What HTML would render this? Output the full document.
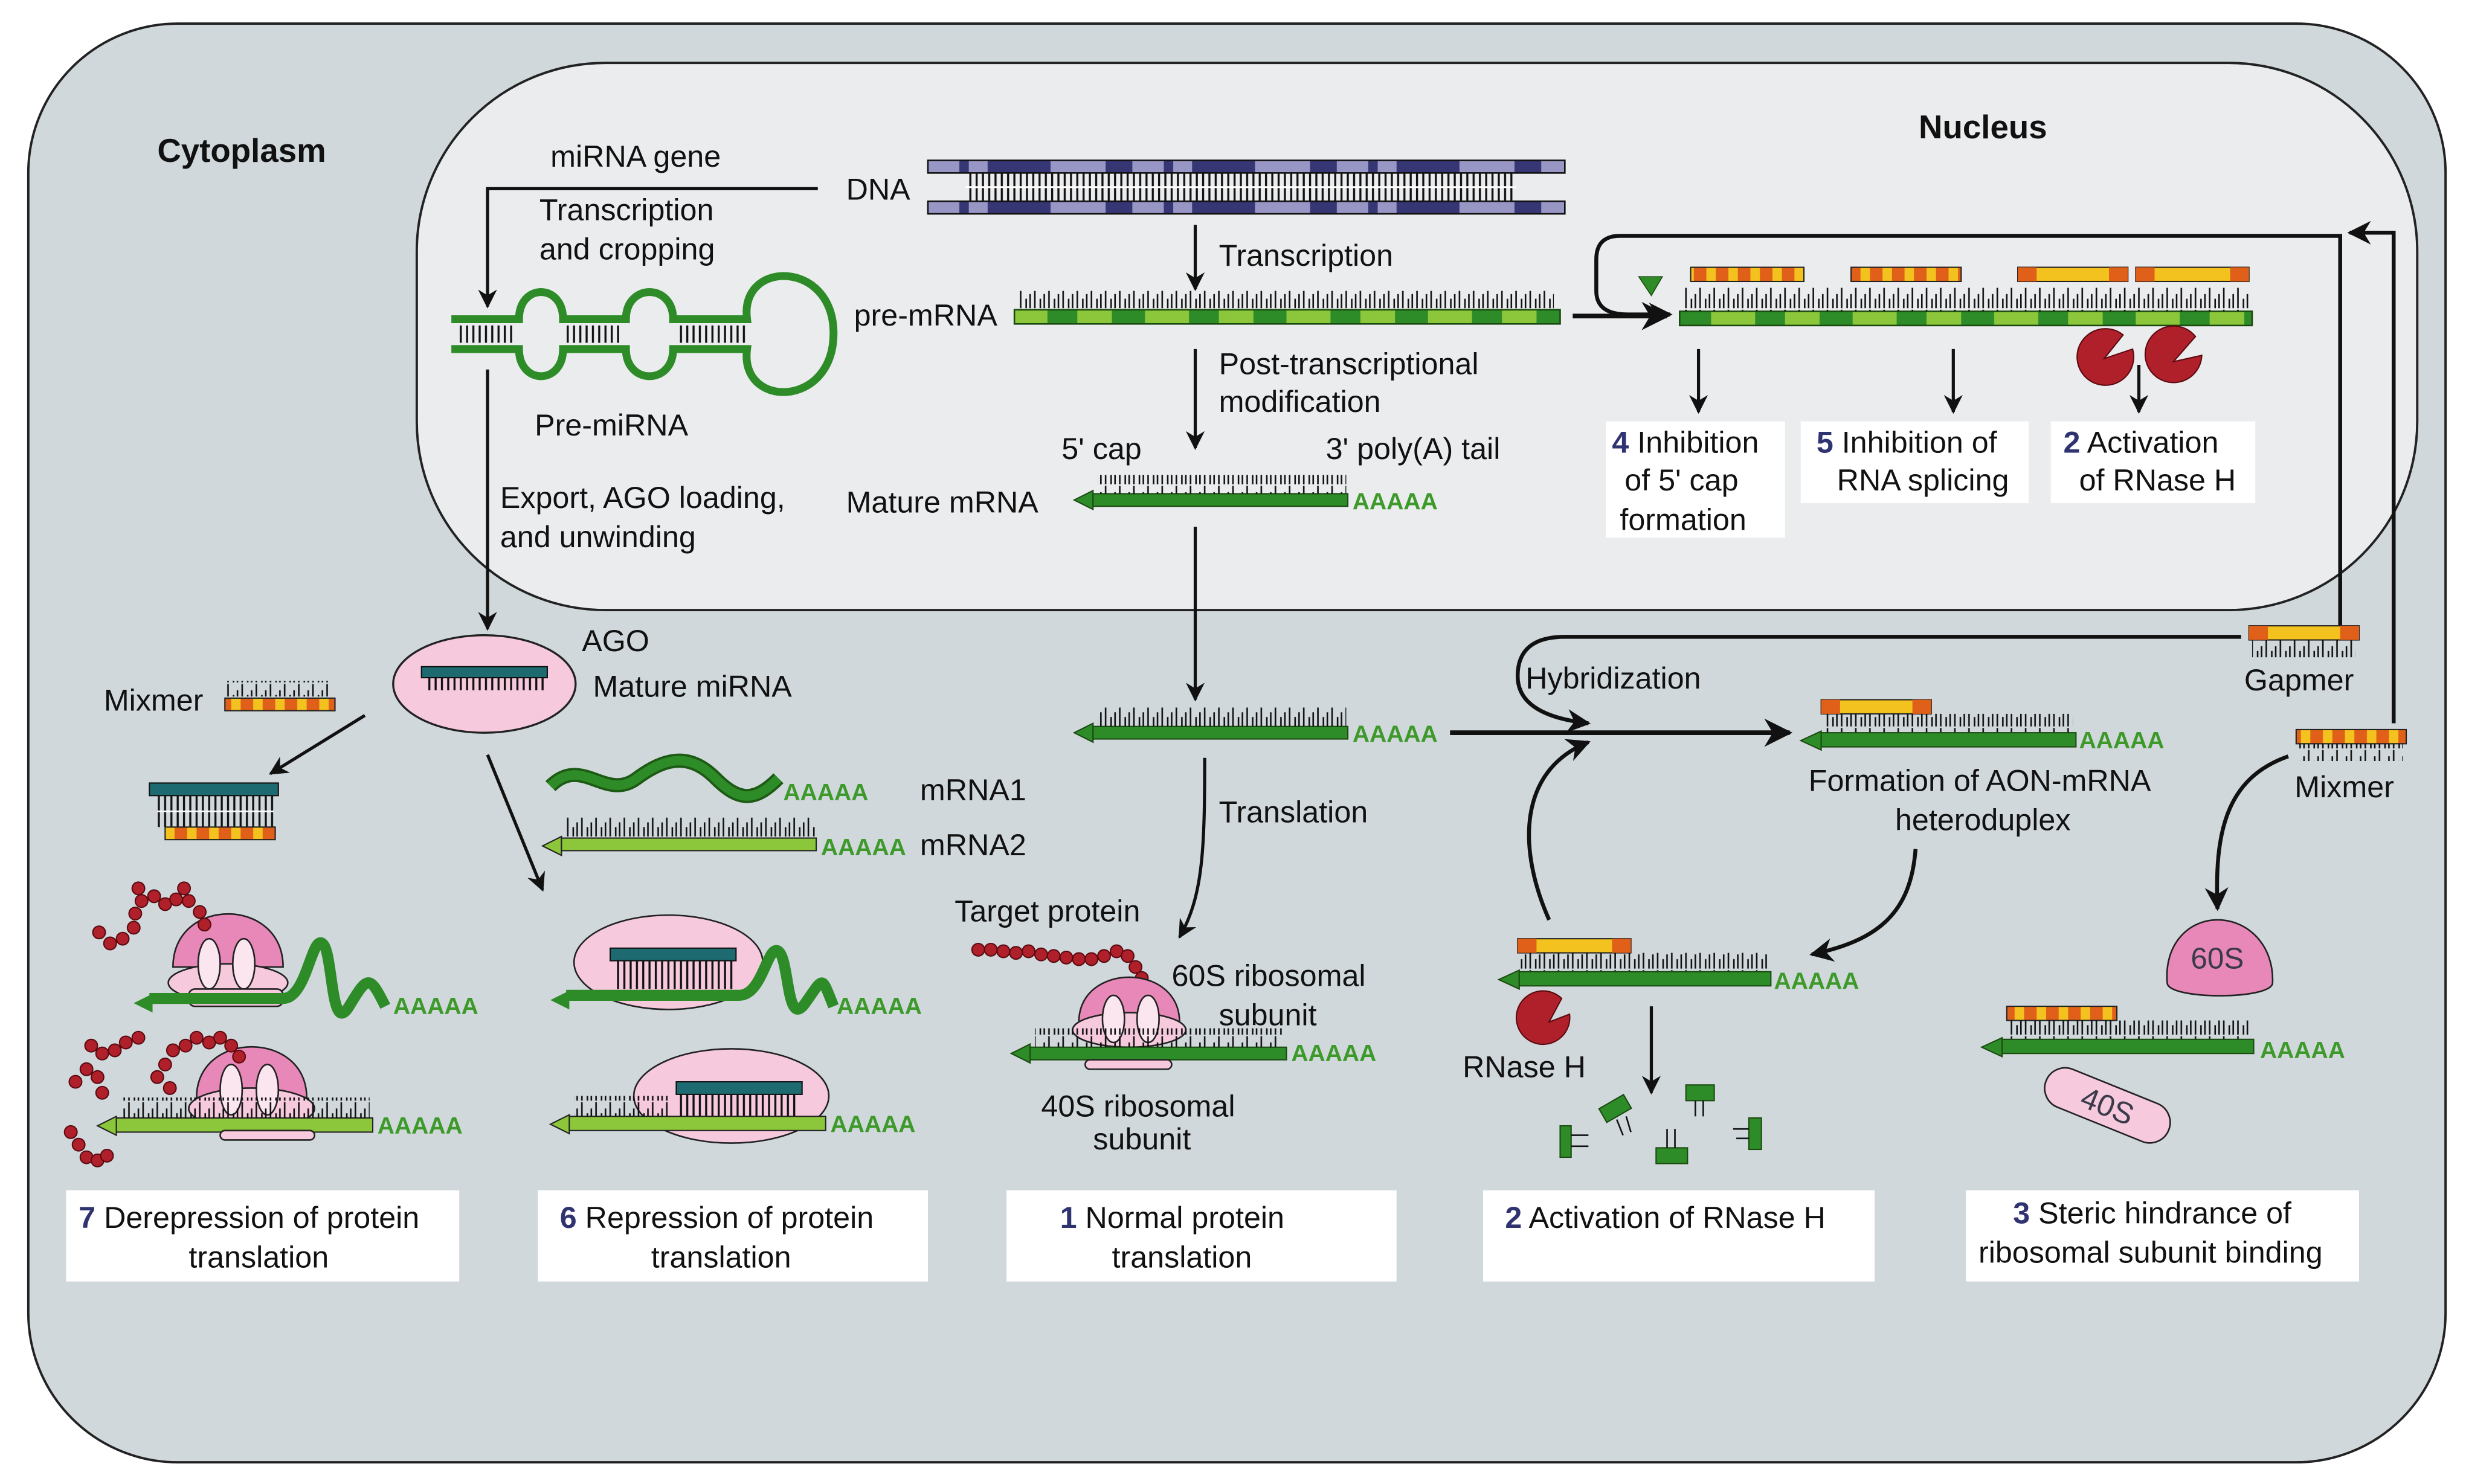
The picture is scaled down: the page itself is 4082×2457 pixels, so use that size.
<!DOCTYPE html>
<html><head><meta charset="utf-8"><style>
html,body{margin:0;padding:0;background:#fff;}
svg{display:block;}
text{font-family:"Liberation Sans",Arial,sans-serif;font-size:19.3px;fill:#111;}
.b{font-weight:bold;}
.num{font-weight:bold;fill:#2f3470;}
.aa{fill:#3d9a2a;font-weight:bold;font-size:15px;}
.lab{fill:#3a3a4a;}
</style></head><body>
<svg width="4082" height="2457" viewBox="0 0 1568 943.8" preserveAspectRatio="none" xmlns="http://www.w3.org/2000/svg">
<defs>
<pattern id="tk" width="9" height="14" patternUnits="userSpaceOnUse">
<line x1="1" y1="1" x2="1" y2="14" stroke="#111" stroke-width="1"/>
<line x1="4.5" y1="8" x2="4.5" y2="14" stroke="#111" stroke-width="1"/>
<line x1="7" y1="5" x2="7" y2="14" stroke="#111" stroke-width="1"/>
</pattern>
<pattern id="tkd" width="4" height="20" patternUnits="userSpaceOnUse">
<line x1="1" y1="0" x2="1" y2="20" stroke="#111" stroke-width="1.3"/>
</pattern>
<pattern id="mix" width="14" height="10" patternUnits="userSpaceOnUse">
<rect width="14" height="10" fill="#e0601a"/><rect x="7" width="6" height="10" fill="#f4c21e"/>
</pattern>
<pattern id="dnap" width="130" height="10" patternUnits="userSpaceOnUse">
<rect width="130" height="10" fill="#363674"/><rect x="18" width="35" height="10" fill="#9896c4"/><rect x="70" width="20" height="10" fill="#9896c4"/><rect x="96" width="12" height="10" fill="#9896c4"/>
</pattern>
<pattern id="grp" width="90" height="10" patternUnits="userSpaceOnUse">
<rect width="90" height="10" fill="#2e8c28"/><rect x="8" width="28" height="10" fill="#8cc63a"/><rect x="55" width="22" height="10" fill="#8cc63a"/>
</pattern>
<marker id="ar" viewBox="0 0 10 10" refX="9" refY="5" markerWidth="6" markerHeight="6" orient="auto"><path d="M0,0 L10,5 L0,10 L3,5Z" fill="#111"/></marker>
</defs>

<rect width="1568" height="944" fill="#fff"/>
<rect x="18" y="15" width="1537" height="915" rx="95" fill="#d0d8dc" stroke="#222" stroke-width="1.5"/>
<rect x="265" y="40" width="1272" height="348" rx="120" fill="#ebecee" stroke="#222" stroke-width="1.5"/>

<text x="100" y="103" class="b" style="font-size:21px">Cytoplasm</text>
<text x="1220" y="88" class="b" style="font-size:21px">Nucleus</text>

<rect x="590" y="102" width="405" height="8" fill="url(#dnap)" stroke="#111" stroke-width="1"/>
<rect x="590" y="128" width="405" height="8" fill="url(#dnap)" stroke="#111" stroke-width="1"/>
<rect x="614" y="110" width="350" height="18" fill="url(#tkd)"/>
<line x1="614" y1="119" x2="964" y2="119" stroke="#fff" stroke-width="1.2"/>
<text x="538" y="127">DNA</text>
<text x="350" y="106">miRNA gene</text>
<text x="343" y="140">Transcription</text>
<text x="343" y="165">and cropping</text>
<path d="M520,120 H310 V195" fill="none" stroke="#111" stroke-width="2" marker-end="url(#ar)"/>

<g fill="none" stroke="#2e8c28" stroke-width="5">
<path d="M287,203 H330 C330,180 358,180 358,203 H398 C398,180 428,180 428,203 H475 C470,165 530,165 530,212 C530,260 470,260 475,222 H428 C428,245 398,245 398,222 H358 C358,245 330,245 330,222 H287"/>
</g>
<rect x="290" y="207" width="38" height="11" fill="url(#tkd)"/><rect x="360" y="207" width="36" height="11" fill="url(#tkd)"/><rect x="430" y="207" width="44" height="11" fill="url(#tkd)"/>
<text x="340" y="277">Pre-miRNA</text>
<line x1="310" y1="235" x2="310" y2="400" stroke="#111" stroke-width="2" marker-end="url(#ar)"/>
<text x="318" y="323">Export, AGO loading,</text>
<text x="318" y="348">and unwinding</text>

<ellipse cx="308" cy="435" rx="58" ry="31" fill="#f6c9dd" stroke="#222" stroke-width="1.3"/>
<rect x="268" y="424" width="80" height="7" fill="#1d6a70" stroke="#111" stroke-width=".8"/>
<rect x="270" y="431" width="76" height="8" fill="url(#tkd)"/>
<text x="370" y="414">AGO</text>
<text x="377" y="443">Mature miRNA</text>
<text x="66" y="452">Mixmer</text>
<rect x="143" y="433" width="68" height="10" fill="url(#tk)"/>
<rect x="143" y="444" width="70" height="8" fill="url(#mix)" stroke="#222" stroke-width=".8"/>
<path d="M232,455 L172,492" stroke="#111" stroke-width="2" marker-end="url(#ar)"/>
<path d="M310,480 L345,566" stroke="#111" stroke-width="2" marker-end="url(#ar)"/>
<rect x="95" y="498" width="82" height="8" fill="#1d6a70" stroke="#111" stroke-width=".8"/>
<rect x="100" y="506" width="74" height="20" fill="url(#tkd)"/>
<line x1="100" y1="516" x2="174" y2="516" stroke="#fff"/>
<rect x="105" y="526" width="70" height="8" fill="url(#mix)" stroke="#222" stroke-width=".8"/>

<path d="M350,500 C370,480 385,510 405,495 S440,480 455,495 S480,510 495,495" fill="none" stroke="#1d5a14" stroke-width="9"/>
<path d="M350,500 C370,480 385,510 405,495 S440,480 455,495 S480,510 495,495" fill="none" stroke="#2e8c28" stroke-width="6"/>
<text x="498" y="509" class="aa">AAAAA</text><text x="585" y="509">mRNA1</text>
<path d="M345,538 L357,532 V544 Z" fill="#8cc63a" stroke="#222" stroke-width=".8"/>
<rect x="357" y="533" width="162" height="8" fill="#8cc63a" stroke="#222" stroke-width=".8"/>
<rect x="360" y="520" width="158" height="13" fill="url(#tk)"/>
<text x="522" y="544" class="aa">AAAAA</text><text x="585" y="544">mRNA2</text>

<g>
<path d="M110,615 C110,570 180,570 180,615 Z" fill="#e888b8" stroke="#222" stroke-width="1"/>
<ellipse cx="145" cy="625" rx="38" ry="12" fill="#f6c9dd" stroke="#222" stroke-width="1"/>
<ellipse cx="133" cy="613" rx="7" ry="16" fill="#fbe6f0" stroke="#222"/><ellipse cx="155" cy="613" rx="7" ry="16" fill="#fbe6f0" stroke="#222"/>
<rect x="120" y="629" width="60" height="11" rx="4" fill="#f6c9dd" stroke="#222"/>
<path d="M95,635 H180 C195,635 198,595 205,600 S210,660 222,640 S235,620 245,640" fill="none" stroke="#2e8c28" stroke-width="7"/>
<path d="M85,638 L97,632 V644Z" fill="#2e8c28"/>
<text x="250" y="645" class="aa">AAAAA</text>
<path d="M125,698 C125,655 195,655 195,698 Z" fill="#e888b8" stroke="#222"/>
<ellipse cx="160" cy="705" rx="40" ry="13" fill="#f6c9dd" stroke="#222"/>
<ellipse cx="147" cy="693" rx="7" ry="16" fill="#fbe6f0" stroke="#222"/><ellipse cx="170" cy="693" rx="7" ry="16" fill="#fbe6f0" stroke="#222"/>
<path d="M62,716 L74,710 V722Z" fill="#8cc63a" stroke="#222" stroke-width=".8"/>
<rect x="74" y="711" width="163" height="9" fill="#8cc63a" stroke="#222" stroke-width=".8"/>
<rect x="140" y="719" width="60" height="6" rx="3" fill="#f6c9dd" stroke="#222"/>
<rect x="77" y="698" width="158" height="13" fill="url(#tk)"/>
<text x="240" y="721" class="aa">AAAAA</text>
</g>
<g fill="#b0202a" stroke="#5a0a10" stroke-width=".8">
<circle cx="88" cy="565" r="4"/><circle cx="90" cy="573" r="4"/><circle cx="86" cy="581" r="4"/><circle cx="85" cy="590" r="4"/><circle cx="78" cy="597" r="4"/><circle cx="70" cy="600" r="4"/><circle cx="63" cy="593" r="4"/><circle cx="98" cy="570" r="4"/><circle cx="105" cy="575" r="4"/><circle cx="112" cy="572" r="4"/><circle cx="117" cy="565" r="4"/><circle cx="120" cy="573" r="4"/><circle cx="127" cy="580" r="4"/><circle cx="130" cy="588" r="4"/>
<circle cx="58" cy="665" r="4"/><circle cx="65" cy="670" r="4"/><circle cx="73" cy="668" r="4"/><circle cx="80" cy="663" r="4"/><circle cx="88" cy="660" r="4"/><circle cx="55" cy="680" r="4"/><circle cx="48" cy="688" r="4"/><circle cx="62" cy="685" r="4"/><circle cx="65" cy="695" r="4"/><circle cx="110" cy="668" r="4"/><circle cx="105" cy="677" r="4"/><circle cx="100" cy="685" r="4"/><circle cx="108" cy="692" r="4"/><circle cx="118" cy="665" r="4"/><circle cx="125" cy="660" r="4"/><circle cx="133" cy="663" r="4"/><circle cx="140" cy="660" r="4"/><circle cx="147" cy="665" r="4"/><circle cx="152" cy="672" r="4"/><circle cx="45" cy="720" r="4"/><circle cx="50" cy="728" r="4"/><circle cx="55" cy="736" r="4"/><circle cx="62" cy="738" r="4"/><circle cx="68" cy="735" r="4"/>
</g>

<ellipse cx="425" cy="612" rx="60" ry="30" fill="#f6c9dd" stroke="#222"/>
<rect x="388" y="603" width="80" height="8" fill="#1d6a70" stroke="#111" stroke-width=".8"/>
<rect x="390" y="611" width="76" height="18" fill="url(#tkd)"/>
<path d="M360,633 H470 C485,633 488,600 495,605 S500,655 512,638 S522,620 530,640" fill="none" stroke="#2e8c28" stroke-width="7"/>
<path d="M350,636 L362,630 V642Z" fill="#2e8c28"/>
<text x="532" y="645" class="aa">AAAAA</text>
<ellipse cx="465" cy="697" rx="62" ry="30" fill="#f6c9dd" stroke="#222"/>
<rect x="430" y="688" width="80" height="8" fill="#1d6a70" stroke="#111" stroke-width=".8"/>
<rect x="432" y="696" width="76" height="14" fill="url(#tkd)"/>
<path d="M350,715 L362,709 V721Z" fill="#8cc63a" stroke="#222" stroke-width=".8"/>
<rect x="362" y="710" width="163" height="9" fill="#8cc63a" stroke="#222" stroke-width=".8"/>
<rect x="365" y="697" width="60" height="13" fill="url(#tk)"/>
<text x="528" y="720" class="aa">AAAAA</text>

<line x1="760" y1="143" x2="760" y2="184" stroke="#111" stroke-width="2" marker-end="url(#ar)"/>
<text x="775" y="169">Transcription</text>
<text x="543" y="207">pre-mRNA</text>
<rect x="648" y="185" width="340" height="12" fill="url(#tk)"/>
<rect x="645" y="197" width="347" height="9" fill="url(#grp)" stroke="#1a4a10" stroke-width="1"/>
<line x1="760" y1="222" x2="760" y2="285" stroke="#111" stroke-width="2" marker-end="url(#ar)"/>
<text x="775" y="238">Post-transcriptional</text>
<text x="775" y="262">modification</text>
<text x="675" y="292">5' cap</text>
<text x="843" y="292">3' poly(A) tail</text>
<text x="538" y="326">Mature mRNA</text>
<path d="M683,318 L695,312 V324Z" fill="#2e8c28" stroke="#1a4a10" stroke-width=".8"/>
<rect x="695" y="314" width="162" height="8" fill="#2e8c28" stroke="#1a4a10" stroke-width=".8"/>
<rect x="698" y="302" width="158" height="12" fill="url(#tk)"/>
<text x="860" y="324" class="aa">AAAAA</text>
<line x1="760" y1="335" x2="760" y2="445" stroke="#111" stroke-width="2" marker-end="url(#ar)"/>
<path d="M683,466 L695,460 V472Z" fill="#2e8c28" stroke="#1a4a10" stroke-width=".8"/>
<rect x="695" y="462" width="162" height="8" fill="#2e8c28" stroke="#1a4a10" stroke-width=".8"/>
<rect x="698" y="450" width="158" height="12" fill="url(#tk)"/>
<text x="860" y="472" class="aa">AAAAA</text>
<line x1="922" y1="466" x2="1138" y2="466" stroke="#111" stroke-width="3" marker-end="url(#ar)"/>
<path d="M766,482 C766,540 765,570 750,596" fill="none" stroke="#111" stroke-width="2" marker-end="url(#ar)"/>
<text x="775" y="523">Translation</text>
<text x="607" y="586">Target protein</text>
<g fill="#b0202a" stroke="#5a0a10" stroke-width=".8">
<circle cx="622" cy="604" r="4"/><circle cx="630" cy="604" r="4"/><circle cx="638" cy="605" r="4"/><circle cx="646" cy="606" r="4"/><circle cx="654" cy="605" r="4"/><circle cx="662" cy="607" r="4"/><circle cx="670" cy="608" r="4"/><circle cx="678" cy="609" r="4"/><circle cx="686" cy="610" r="4"/><circle cx="694" cy="610" r="4"/><circle cx="702" cy="608" r="4"/><circle cx="710" cy="605" r="4"/><circle cx="717" cy="608" r="4"/><circle cx="722" cy="615" r="4"/><circle cx="726" cy="622" r="4"/>
</g>
<path d="M686,650 C686,612 750,612 750,650 Z" fill="#e888b8" stroke="#222"/>
<ellipse cx="718" cy="655" rx="36" ry="11" fill="#f6c9dd" stroke="#222"/>
<ellipse cx="708" cy="648" rx="7" ry="15" fill="#fbe6f0" stroke="#222"/><ellipse cx="730" cy="648" rx="7" ry="15" fill="#fbe6f0" stroke="#222"/>
<path d="M643,670 L655,664 V676Z" fill="#2e8c28" stroke="#1a4a10" stroke-width=".8"/>
<rect x="655" y="666" width="163" height="8" fill="#2e8c28" stroke="#1a4a10" stroke-width=".8"/>
<rect x="690" y="674" width="55" height="6" rx="3" fill="#f6c9dd" stroke="#222"/>
<rect x="658" y="654" width="158" height="12" fill="url(#tk)"/>
<text x="821" y="675" class="aa">AAAAA</text>
<text x="745" y="627">60S ribosomal</text>
<text x="775" y="652">subunit</text>
<text x="662" y="710">40S ribosomal</text>
<text x="695" y="731">subunit</text>

<path d="M1488,398 V150 H1030 Q1015,150 1015,165 V185 Q1015,200 1035,200 H1062" fill="none" stroke="#111" stroke-width="2.5" marker-end="url(#ar)"/>
<path d="M1522,460 V148 H1494" fill="none" stroke="#111" stroke-width="2.5" marker-end="url(#ar)"/>
<line x1="1000" y1="201" x2="1060" y2="201" stroke="#111" stroke-width="3" marker-end="url(#ar)"/>
<path d="M1042,176 L1057,176 L1050,188Z" fill="#2e8c28" stroke="#1a4a10" stroke-width=".6"/>
<rect x="1068" y="198" width="364" height="9" fill="url(#grp)" stroke="#1a4a10" stroke-width="1"/>
<rect x="1070" y="183" width="360" height="15" fill="url(#tk)"/>
<rect x="1075" y="170" width="72" height="9" fill="url(#mix)" stroke="#222" stroke-width=".8"/>
<rect x="1177" y="170" width="70" height="9" fill="url(#mix)" stroke="#222" stroke-width=".8"/>
<rect x="1283" y="170" width="70" height="9" fill="#f4c21e" stroke="#222" stroke-width=".8"/><rect x="1283" y="170" width="12" height="9" fill="#e0601a"/><rect x="1341" y="170" width="12" height="9" fill="#e0601a"/>
<rect x="1358" y="170" width="72" height="9" fill="#f4c21e" stroke="#222" stroke-width=".8"/><rect x="1358" y="170" width="12" height="9" fill="#e0601a"/><rect x="1418" y="170" width="12" height="9" fill="#e0601a"/>
<line x1="1080" y1="222" x2="1080" y2="262" stroke="#111" stroke-width="2" marker-end="url(#ar)"/>
<line x1="1242" y1="222" x2="1242" y2="262" stroke="#111" stroke-width="2" marker-end="url(#ar)"/>
<line x1="1360" y1="232" x2="1360" y2="262" stroke="#111" stroke-width="2" marker-end="url(#ar)"/>
<path d="M1338,228 L1356,222 A18,18 0 1,1 1350,213 Z" fill="#b0202a" stroke="#5a0a10" stroke-width=".8"/>
<path d="M1382,230 L1400,226 A18,18 0 1,1 1396,214 Z" fill="#b0202a" stroke="#5a0a10" stroke-width=".8"/>

<rect x="1021" y="268" width="114" height="74" fill="#fff"/>
<text x="1025" y="288"><tspan class="num">4</tspan> Inhibition</text>
<text x="1033" y="312">of 5' cap</text>
<text x="1030" y="337">formation</text>
<rect x="1145" y="268" width="145" height="52" fill="#fff"/>
<text x="1155" y="288"><tspan class="num">5</tspan> Inhibition of</text>
<text x="1168" y="312">RNA splicing</text>
<rect x="1304" y="268" width="130" height="52" fill="#fff"/>
<text x="1312" y="288"><tspan class="num">2</tspan> Activation</text>
<text x="1322" y="312">of RNase H</text>

<rect x="1430" y="398" width="70" height="9" fill="#f4c21e" stroke="#222" stroke-width=".8"/><rect x="1430" y="398" width="12" height="9" fill="#e0601a"/><rect x="1488" y="398" width="12" height="9" fill="#e0601a"/>
<rect x="1432" y="407" width="66" height="11" fill="url(#tk)"/>
<text x="1427" y="439">Gapmer</text>
<rect x="1460" y="464" width="70" height="9" fill="url(#mix)" stroke="#222" stroke-width=".8"/>
<rect x="1462" y="473" width="66" height="11" fill="url(#tk)"/>
<text x="1459" y="507">Mixmer</text>

<path d="M1425,405 H995 Q965,405 965,430 Q965,455 1010,460" fill="none" stroke="#111" stroke-width="2.5" marker-end="url(#ar)"/>
<text x="970" y="438">Hybridization</text>
<path d="M985,585 C965,540 965,490 1010,472" fill="none" stroke="#111" stroke-width="2.5" marker-end="url(#ar)"/>

<rect x="1158" y="445" width="70" height="9" fill="#f4c21e" stroke="#222" stroke-width=".8"/><rect x="1158" y="445" width="12" height="9" fill="#e0601a"/><rect x="1216" y="445" width="12" height="9" fill="#e0601a"/>
<rect x="1160" y="454" width="158" height="12" fill="url(#tk)"/>
<path d="M1145,471 L1158,465 V477Z" fill="#2e8c28" stroke="#1a4a10" stroke-width=".8"/>
<rect x="1158" y="466" width="162" height="9" fill="#2e8c28" stroke="#1a4a10" stroke-width=".8"/>
<text x="1322" y="476" class="aa">AAAAA</text>
<text x="1150" y="503">Formation of AON-mRNA</text>
<text x="1205" y="528">heteroduplex</text>
<path d="M1218,540 C1215,580 1195,598 1152,607" fill="none" stroke="#111" stroke-width="2.5" marker-end="url(#ar)"/>

<rect x="965" y="597" width="72" height="9" fill="#f4c21e" stroke="#222" stroke-width=".8"/><rect x="965" y="597" width="12" height="9" fill="#e0601a"/><rect x="1025" y="597" width="12" height="9" fill="#e0601a"/>
<rect x="967" y="606" width="158" height="12" fill="url(#tk)"/>
<path d="M953,623 L966,617 V629Z" fill="#2e8c28" stroke="#1a4a10" stroke-width=".8"/>
<rect x="966" y="618" width="160" height="9" fill="#2e8c28" stroke="#1a4a10" stroke-width=".8"/>
<text x="1128" y="629" class="aa">AAAAA</text>
<path d="M985,650 L998,645 A17,17 0 1,1 993,635 Z" fill="#b0202a" stroke="#5a0a10" stroke-width=".8"/>
<text x="930" y="685">RNase H</text>
<line x1="1050" y1="640" x2="1050" y2="695" stroke="#111" stroke-width="2" marker-end="url(#ar)"/>
<g fill="#2e8c28" stroke="#1a4a10" stroke-width=".8">
<rect x="992" y="716" width="7" height="20"/><rect x="1072" y="690" width="18" height="10"/><rect x="1053" y="730" width="20" height="10"/><rect x="1112" y="711" width="8" height="20"/>
<rect x="1018" y="700" width="18" height="10" transform="rotate(-30 1027 705)"/>
</g>
<g stroke="#111" stroke-width="1"><line x1="999" y1="722" x2="1010" y2="722"/><line x1="999" y1="729" x2="1010" y2="729"/><line x1="1078" y1="700" x2="1078" y2="710"/><line x1="1083" y1="700" x2="1083" y2="710"/><line x1="1060" y1="718" x2="1060" y2="730"/><line x1="1065" y1="718" x2="1065" y2="730"/><line x1="1102" y1="718" x2="1112" y2="718"/><line x1="1104" y1="724" x2="1112" y2="724"/><line x1="1028" y1="712" x2="1032" y2="722"/><line x1="1034" y1="710" x2="1037" y2="720"/></g>

<path d="M1455,481 C1415,495 1408,530 1410,578" fill="none" stroke="#111" stroke-width="2.5" marker-end="url(#ar)"/>
<path d="M1378,625 C1376,600 1392,585 1410,585 C1430,585 1446,602 1445,625 C1445,636 1378,636 1378,625 Z" fill="#e888b8" stroke="#222"/>
<text x="1393" y="616" class="lab" style="font-size:19px">60S</text>
<rect x="1276" y="640" width="70" height="9" fill="url(#mix)" stroke="#222" stroke-width=".8"/>
<rect x="1278" y="649" width="153" height="12" fill="url(#tk)"/>
<path d="M1260,666 L1273,660 V672Z" fill="#2e8c28" stroke="#1a4a10" stroke-width=".8"/>
<rect x="1273" y="661" width="160" height="9" fill="#2e8c28" stroke="#1a4a10" stroke-width=".8"/>
<text x="1437" y="673" class="aa">AAAAA</text>
<g transform="rotate(22 1340 703)"><rect x="1298" y="690" width="84" height="26" rx="13" fill="#f6c9dd" stroke="#222"/><text x="1323" y="710" class="lab">40S</text></g>

<rect x="42" y="757" width="250" height="58" fill="#fff"/>
<text x="50" y="781"><tspan class="num">7</tspan> Derepression of protein</text>
<text x="120" y="806">translation</text>
<rect x="342" y="757" width="248" height="58" fill="#fff"/>
<text x="356" y="781"><tspan class="num">6</tspan> Repression of protein</text>
<text x="414" y="806">translation</text>
<rect x="640" y="757" width="248" height="58" fill="#fff"/>
<text x="674" y="781"><tspan class="num">1</tspan> Normal protein</text>
<text x="707" y="806">translation</text>
<rect x="943" y="757" width="249" height="58" fill="#fff"/>
<text x="957" y="781"><tspan class="num">2</tspan> Activation of RNase H</text>
<rect x="1250" y="757" width="250" height="58" fill="#fff"/>
<text x="1280" y="778"><tspan class="num">3</tspan> Steric hindrance of</text>
<text x="1258" y="803">ribosomal subunit binding</text>
</svg>
</body></html>
